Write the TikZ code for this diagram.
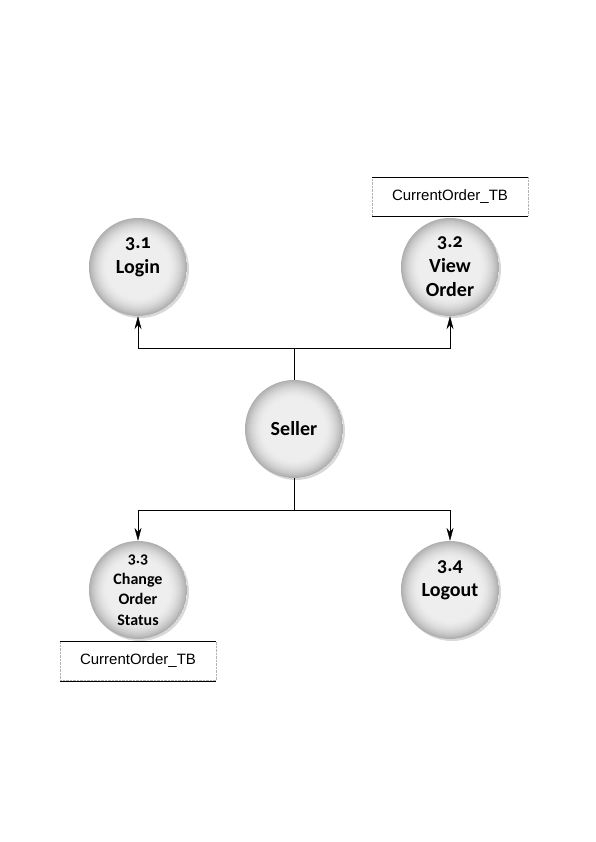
\documentclass[tikz,border=0pt]{standalone}
\usepackage{fontspec}
\setmainfont{Liberation Sans}
\newfontfamily\bubblefont[Numbers=OldStyle]{Carlito}
\usetikzlibrary{arrows.meta,shadows}
\begin{document}
\begin{tikzpicture}[
  process/.style={circle,fill=gray!13,minimum size=98pt,inner sep=0pt,align=center,
    font=\bubblefont\bfseries\fontsize{20}{24.5}\selectfont,
    drop shadow={opacity=0.3,shadow xshift=2pt,shadow yshift=-2pt},
    path picture={
      \foreach \k in {0,...,19}{
        \pgfmathtruncatemacro\shade{13+50*((20-\k)/20)^2}
        \pgfmathsetmacro\ring{49-\k}
        \fill[gray!\shade] (path picture bounding box.center) circle (\ring pt);
      }}},
  store/.style={draw=gray!60,densely dotted,minimum width=156pt,minimum height=39pt,
    inner sep=0pt,font=\fontsize{15}{18}\selectfont},
  flow/.style={-{Stealth[length=13pt,width=7pt]}}]
  \useasboundingbox (0,0) rectangle (595pt,-842pt);
  \node[process] (seller) at (294pt,-429pt) {Seller};
  \node[process,text depth=23pt] (login) at (138pt,-267pt) {3.1\\Login};
  \node[process] (view) at (450pt,-267pt) {3.2\\View\\Order};
  \node[process,font=\bubblefont\bfseries\fontsize{16}{20.5}\selectfont] (change) at (138pt,-590pt) {3.3\\Change\\Order\\Status};
  \node[process,text depth=23pt] (logout) at (450pt,-590pt) {3.4\\Logout};

  \node[store] (viewstore) at (450pt,-196.5pt) {CurrentOrder\_TB};
  \node[store] (changestore) at (138pt,-661pt) {CurrentOrder\_TB};
  \foreach \s in {viewstore,changestore}
    \draw (\s.north west) -- (\s.north east) (\s.south west) -- (\s.south east);

  \coordinate (upper) at (294pt,-348pt);
  \coordinate (lower) at (294pt,-510pt);
  \draw (seller) -- (upper);
  \draw (seller) -- (lower);
  \draw[flow] (upper) -| (login);
  \draw[flow] (upper) -| (view);
  \draw[flow] (lower) -| (change);
  \draw[flow] (lower) -| (logout);
\end{tikzpicture}
\end{document}
